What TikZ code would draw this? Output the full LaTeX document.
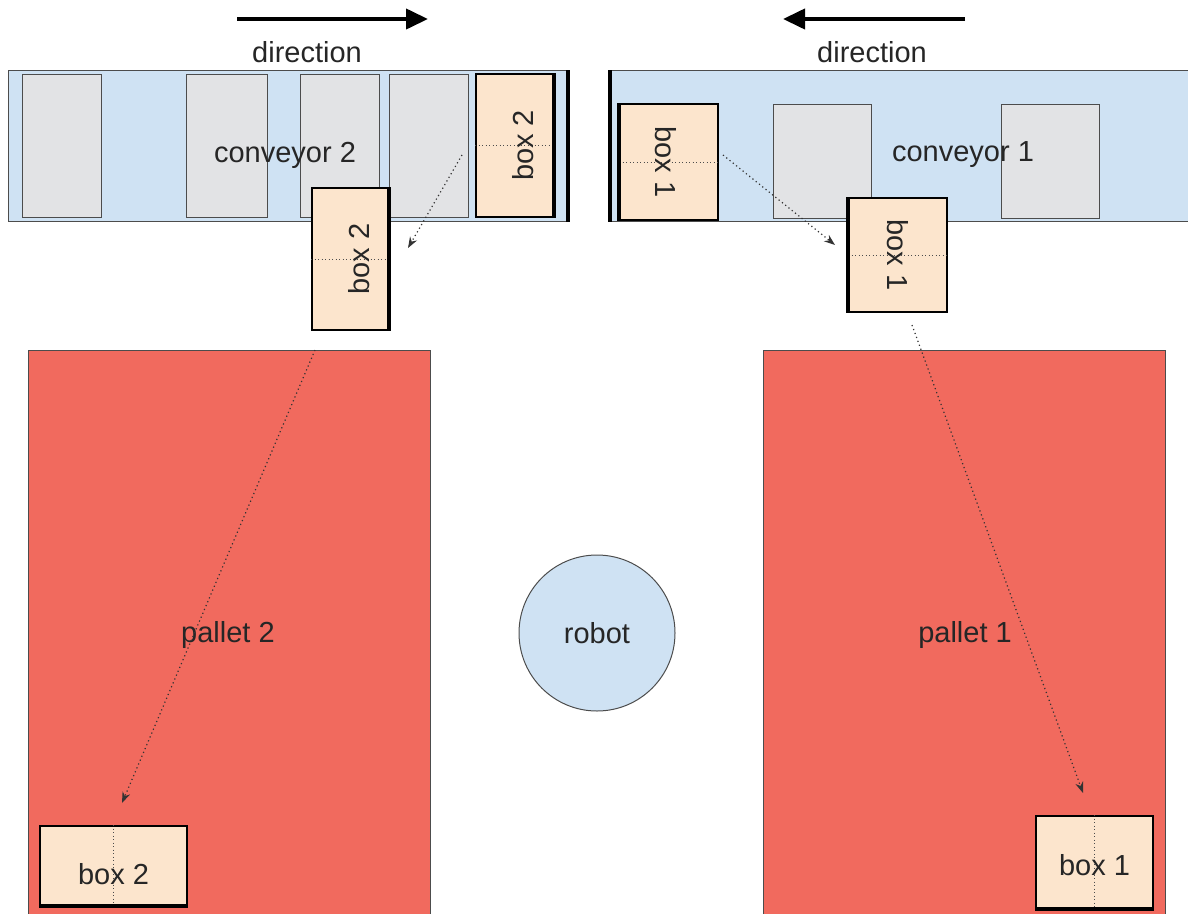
\documentclass[tikz,border=0pt]{standalone}
\usepackage{fontspec}
\setmainfont{Liberation Sans}
\usetikzlibrary{arrows.meta}

\begin{document}
\begin{tikzpicture}[x=1pt,y=-1pt]
  % Colors
  \definecolor{beltcolor}{RGB}{207,226,243}
  \definecolor{slotcolor}{RGB}{226,227,229}
  \definecolor{boxcolor}{RGB}{252,229,205}
  \definecolor{palletcolor}{RGB}{241,106,94}
  \colorlet{edgecolor}{black!70}

  % Styles
  \tikzstyle{label text}=[font=\fontsize{29}{34}\selectfont,text=black!85,inner sep=0pt]
  \tikzstyle{belt}=[draw=edgecolor,fill=beltcolor,line width=1pt,inner sep=0pt,anchor=north west]
  \tikzstyle{free slot}=[draw=edgecolor,fill=slotcolor,line width=1pt,inner sep=0pt,anchor=north west]
  \tikzstyle{parcel}=[draw=black,fill=boxcolor,line width=1.6pt,inner sep=0pt]
  \tikzstyle{pallet}=[draw=edgecolor,fill=palletcolor,line width=1pt,inner sep=0pt,anchor=north west]
  \tikzstyle{heavy edge}=[line width=4.5pt,black]
  \tikzstyle{fold line}=[edgecolor,dash pattern=on 1pt off 2.5pt,line width=1pt]
  \tikzstyle{move path}=[black!80,dash pattern=on 1.2pt off 3pt,line width=1.2pt,-{Stealth[length=11pt,width=8pt]}]
  \tikzstyle{direction arrow}=[line width=4pt,-{Triangle[length=22pt,width=20pt]}]

  \useasboundingbox (0,0) rectangle (1188,913);

  % Conveyors
  \node[belt,minimum width=559pt,minimum height=151pt] (conv2) at (8,70) {};
  \node[belt,minimum width=590pt,minimum height=151pt] (conv1) at (610,70) {};

  \foreach \x/\w/\name in {22/79/slot1, 186/81/slot2, 300/79/slot3, 389/79/slot4}
    \node[free slot,minimum width=\w pt,minimum height=143pt] (\name) at (\x,74) {};
  \foreach \x/\name in {773/slot5, 1001/slot6}
    \node[free slot,minimum width=98pt,minimum height=114pt] (\name) at (\x,104) {};

  \node[label text] (conv2text) at (285,155) {conveyor 2};
  \node[label text] (conv1text) at (963,155) {conveyor 1};

  \draw[heavy edge] (conv2.north east) -- (conv2.south east);
  \draw[heavy edge] (conv1.north west) -- (conv1.south west);

  % Direction of the belts
  \coordinate (dir2a) at (237,19);
  \coordinate (dir2b) at (428,19);
  \coordinate (dir1a) at (965,19);
  \coordinate (dir1b) at (783,19);
  \draw[direction arrow] (dir2a) -- (dir2b);
  \draw[direction arrow] (dir1a) -- (dir1b);
  \node[label text] (dir2text) at (307,52) {direction};
  \node[label text] (dir1text) at (872,52) {direction};

  % Boxes on the conveyors
  \node[parcel,minimum width=77pt,minimum height=143pt] (box2a) at (514.5,145.5) {};
  \draw[fold line] (box2a.west) -- (box2a.east);
  \draw[heavy edge] (box2a.north east) -- (box2a.south east);
  \node[label text,rotate=90] at ([xshift=9pt]box2a.center) {box 2};

  \node[parcel,minimum width=98pt,minimum height=116pt] (box1a) at (669,162) {};
  \draw[fold line] (box1a.west) -- (box1a.east);
  \draw[heavy edge] (box1a.north west) -- (box1a.south west);
  \node[label text,rotate=-90] at ([xshift=-3pt]box1a.center) {box 1};

  % Boxes being lifted
  \node[parcel,minimum width=76pt,minimum height=142pt] (box2b) at (350,259) {};
  \draw[fold line] (box2b.west) -- (box2b.east);
  \draw[heavy edge] (box2b.north east) -- (box2b.south east);
  \node[label text,rotate=90] at ([xshift=9pt]box2b.center) {box 2};

  \node[parcel,minimum width=98pt,minimum height=114pt] (box1b) at (898,255) {};
  \draw[fold line] (box1b.west) -- (box1b.east);
  \draw[heavy edge] (box1b.north west) -- (box1b.south west);
  \node[label text,rotate=-90] at (box1b.center) {box 1};

  % Pallets and robot
  \node[pallet,minimum width=402pt,minimum height=570pt] (pallet2) at (28,350) {};
  \node[pallet,minimum width=402pt,minimum height=570pt] (pallet1) at (763,350) {};
  \node[label text] (pallet2text) at (228,635) {pallet 2};
  \node[label text] (pallet1text) at (965,635) {pallet 1};

  \node[circle,draw=edgecolor,fill=beltcolor,line width=1pt,minimum size=156pt,label text] (robot) at (597,633) {robot};

  % Boxes placed on the pallets
  \node[parcel,minimum width=147pt,minimum height=79pt] (box2c) at (113.5,865.5) {};
  \draw[fold line] (box2c.north) -- (box2c.south);
  \draw[heavy edge] (box2c.south west) -- (box2c.south east);
  \node[label text] at ([yshift=-9pt]box2c.center) {box 2};

  \node[parcel,minimum width=117pt,minimum height=92pt] (box1c) at (1094.5,862) {};
  \draw[fold line] (box1c.north) -- (box1c.south);
  \draw[heavy edge] (box1c.south west) -- (box1c.south east);
  \node[label text] at ([yshift=-3pt]box1c.center) {box 1};

  % Moves of the robot
  \coordinate (pick2) at (462,155);
  \coordinate (lift2) at (408,248);
  \coordinate (carry2) at (315,350);
  \coordinate (drop2) at (122,803);
  \coordinate (pick1) at (723,155);
  \coordinate (lift1) at (835,245);
  \coordinate (carry1) at (912,325);
  \coordinate (drop1) at (1083,793);
  \draw[move path] (pick2) -- (lift2);
  \draw[move path] (carry2) -- (drop2);
  \draw[move path] (pick1) -- (lift1);
  \draw[move path] (carry1) -- (drop1);
\end{tikzpicture}
\end{document}
